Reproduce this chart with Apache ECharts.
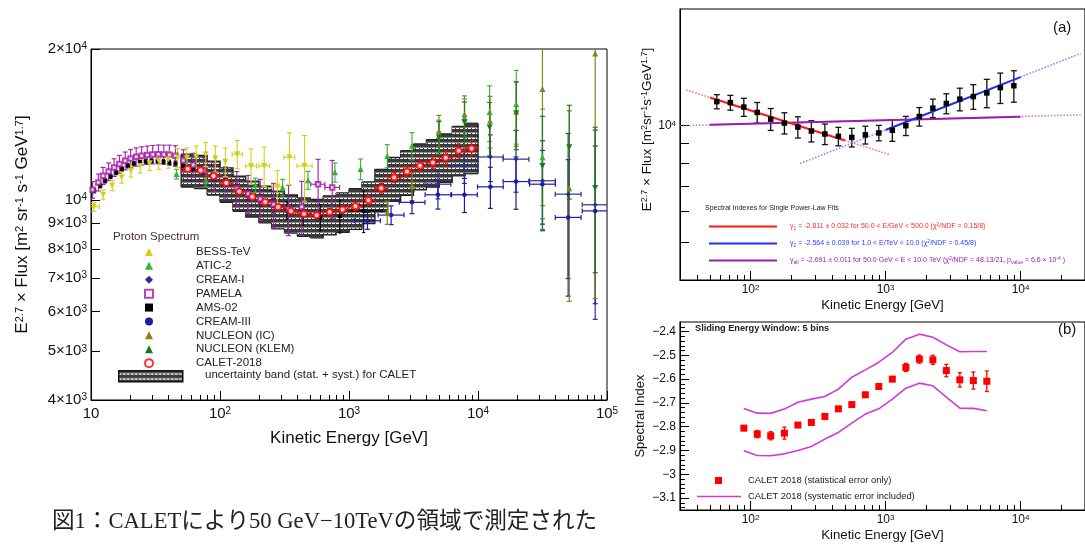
<!DOCTYPE html>
<html><head><meta charset="utf-8">
<script src="https://cdn.jsdelivr.net/npm/echarts@6/dist/echarts.min.js"></script>
<style>html,body{margin:0;padding:0;background:#fff;}#c{width:1085px;height:544px;}</style>
</head><body><div id="c"></div>
<script>
// ================= DATA =================
// Left panel ticks
const leftXMajor = [10, 100, 1000, 10000, 100000];
const leftXMinor = [20,30,40,50,60,70,80,90,200,300,400,500,600,700,800,900,2000,3000,4000,5000,6000,7000,8000,9000,20000,30000,40000,50000,60000,70000,80000,90000];
const leftYTicks = [4000,5000,6000,7000,8000,9000,10000,20000];

// CALET-2018
const calE = [56.2,70.8,89.1,112,141,178,224,282,355,447,562,708,891,1122,1413,1778,2239,2818,3548,4467,5623,7079,8913];
const calEdges = [50,63.1,79.4,100,126,158,200,251,316,398,501,631,794,1000,1259,1585,1995,2512,3162,3981,5012,6310,7943,10000];
const calF = [11540,11470,11170,10820,10400,10160,9920,9690,9520,9390,9330,9470,9580,9730,10000,10560,11100,11410,11710,11890,12150,12540,12680];
const calStatErr = [50,55,60,70,80,90,100,110,120,130,140,150,170,190,210,230,260,290,320,350,380,400,420];
const calTotErr = [485,505,600,660,675,640,625,610,580,515,515,500,440,615,570,580,610,675,785,870,1020,1130,1180];
const bandHi = [12350,12280,11960,11600,11160,10910,10660,10420,10240,10100,10030,10200,10340,10540,10870,11520,12160,12550,12940,13200,13550,14020,14230];
const bandLo = [10620,10550,10240,9900,9500,9250,9010,8770,8600,8470,8410,8530,8630,8750,8980,9480,9950,10220,10480,10620,10850,11180,11290];

// AMS-02
const amsE = [10.6,11.8,12.9,14.2,15.7,17.4,19.3,21.5,23.9,26.5,29.5,32.8,36.5,40.5,45.1,52,62,75,90,110,135,165,205,260,330,440,600,850,1300];
const amsF = [10440,10680,10930,11150,11350,11530,11710,11830,11910,11940,11960,11960,11920,11870,11830,11700,11560,11350,11100,10850,10550,10250,10000,9750,9550,9350,9250,9300,9520];
const amsErr = [100,100,110,110,110,120,120,120,120,130,130,130,130,140,140,150,160,170,180,200,220,250,280,320,380,450,550,700,900];
const amsELo = [null,null,null,null,null,null,null,null,null,null,null,null,null,null,null,null,null,null,null,null,null,null,null,null,null,null,null,null,1000];
const amsEHi = [null,null,null,null,null,null,null,null,null,null,null,null,null,null,null,null,null,null,null,null,null,null,null,null,null,null,null,null,1800];

// PAMELA
const pamE = [10.3,11.4,12.4,13.7,15.1,16.6,18.4,20.3,22.4,24.7,27.3,30.1,33.3,36.7,40.5,45.1,52,62,75,90,110,135,165,205,260,340,430,576,741];
const pamF = [10490,10850,11180,11400,11620,11800,11980,12110,12200,12260,12300,12330,12350,12330,12310,12260,12000,11750,11450,11150,10850,10550,10300,10050,9800,9600,9700,10760,10600];
const pamErr = [400,420,440,460,470,480,490,500,510,510,520,520,530,540,560,580,600,650,700,750,800,850,900,950,1000,1100,1200,1300,1400];
const pamELo = [null,null,null,null,null,null,null,null,null,null,null,null,null,null,null,null,null,null,null,null,null,null,null,null,null,null,null,505,650];
const pamEHi = [null,null,null,null,null,null,null,null,null,null,null,null,null,null,null,null,null,null,null,null,null,null,null,null,null,null,null,650,845];

// BESS-TeV
const bessE = [10.5,12.4,14.6,17.3,20.4,24.1,28.5,33.6,39.7,46.9,55.4,65.4,77.5,92,110,136,174,220,278,345,452];
const bessF = [9700,10250,10700,11100,11450,11700,11850,11950,12050,12150,12150,12200,12350,12100,11920,12350,11700,11700,10650,12170,11700];
const bessErr = [200,230,260,290,330,370,400,430,470,520,560,620,680,720,780,800,950,1050,800,1450,1750];
const bessELo = [9.5,null,null,null,null,null,null,null,null,null,null,null,null,null,null,124,158,200,252,313,395];
const bessEHi = [11.6,null,null,null,null,null,null,null,null,null,null,null,null,null,null,149,192,242,306,380,518];

// ATIC-2
const aticE = [46,78,188,306,481,778,1230,1980,3080,4980,7860,12300,19800,31600];
const aticF = [11270,10930,10710,10600,10960,11360,11530,12250,12830,13430,14610,14990,15530,12180];
const aticErr = [250,300,350,400,450,500,550,650,800,1000,1300,1900,2600,3000];

// CREAM-I
const c1E = [4890,7850,12470,19700,31600,50000,81000];
const c1F = [10760,11700,12190,12070,10930,10280,9790];
const c1Err = [700,900,1300,1700,2200,3300,4000];
const c1ELo = [3890,6240,9910,15650,25100,39700,64300];
const c1EHi = [6160,9880,15700,24800,39800,62900,102000];

// CREAM-III
const c3E = [1390,2120,3080,4890,7850,12470,19700,31600,50000,81000];
const c3F = [9100,9340,9900,10250,10250,10630,10890,10760,9240,9520];
const c3Err = [350,400,500,650,800,1000,1300,1800,2800,3300];
const c3ELo = [1100,1680,2450,3890,6240,9910,15650,25100,39700,64300];
const c3EHi = [1750,2670,3880,6160,9880,15700,24800,39800,62900,102000];

// NUCLEON (IC)
const icE = [1980,3080,4980,7860,12400,19800,31600,51000,81000];
const icF = [9450,10680,13750,14830,14400,15000,16650,10560,19600];
const icErrLo = [500,700,1000,1300,1700,2200,6900,4270,13230];
const icErrHi = [500,700,1000,1300,1700,2200,3400,4500,3000];

// NUCLEON (KLEM)
const klE = [4980,7860,12300,19800,31600,51000,81000];
const klF = [13340,14290,13950,14900,11690,12750,10570];
const klErr = [1000,1400,1700,2300,3000,2700,3400];

// Panel (a): fits (end points)
const aXMajor = [100,1000,10000];
const aXMinor = [40,50,60,70,80,90,200,300,400,500,600,700,800,900,2000,3000,4000,5000,6000,7000,8000,9000,20000];
const aYTicks = [5000,6000,7000,8000,9000,10000];
const fitRedDotE = [33.3,1064], fitRedDotF = [12370,8430];
const fitRedE = [50,500], fitRedF = [11825,9160];
const fitBlueDotE = [232.6,27860], fitBlueDotF = [7990,15360];
const fitBlueE = [1000,10000], fitBlueF = [9750,13350];
const fitAllDotE = [29.8,27860], fitAllDotF = [10000,10670];
const fitAllE = [50,10000], fitAllF = [10050,10540];

// Panel (b): spectral index (sliding window)
const bE = [89.1,112,141,178,224,282,355,447,562,708,891,1122,1413,1778,2239,2818,3548,4467,5623];
const bIdx = [-2.806,-2.831,-2.838,-2.827,-2.793,-2.782,-2.757,-2.725,-2.707,-2.666,-2.631,-2.600,-2.551,-2.516,-2.519,-2.564,-2.603,-2.606,-2.609];
const bErr = [0.010,0.015,0.017,0.025,0.010,0.010,0.010,0.010,0.008,0.010,0.008,0.010,0.017,0.017,0.019,0.026,0.030,0.036,0.043];
const bUpper = [-2.723,-2.743,-2.744,-2.726,-2.697,-2.684,-2.673,-2.642,-2.592,-2.561,-2.529,-2.488,-2.432,-2.411,-2.424,-2.456,-2.485,-2.484,-2.484];
const bLower = [-2.901,-2.921,-2.922,-2.914,-2.900,-2.883,-2.852,-2.824,-2.785,-2.747,-2.725,-2.684,-2.638,-2.617,-2.628,-2.676,-2.722,-2.723,-2.733];
const bYMajor = [-3.1,-3.0,-2.9,-2.8,-2.7,-2.6,-2.5,-2.4];
const bYMinor = [-3.14,-3.12,-3.08,-3.06,-3.04,-3.02,-2.98,-2.96,-2.94,-2.92,-2.88,-2.86,-2.84,-2.82,-2.78,-2.76,-2.74,-2.72,-2.68,-2.66,-2.64,-2.62,-2.58,-2.56,-2.54,-2.52,-2.48,-2.46,-2.44,-2.42,-2.38];

// Legend names
const nBESS='BESS-TeV', nATIC='ATIC-2', nC1='CREAM-I', nPAM='PAMELA', nAMS='AMS-02', nC3='CREAM-III', nIC='NUCLEON (IC)', nKL='NUCLEON (KLEM)', nCAL='CALET-2018';
const nFit1 = 'γ1 = -2.811 ± 0.032 for 50.0 < E/GeV < 500.0 (χ2/NDF = 0.15/8)';
const nFit2 = 'γ2 = -2.564 ± 0.039 for 1.0 < E/TeV < 10.0 (χ2/NDF = 0.45/8)';
const nFitA = 'γall = -2.691 ± 0.011 for 50.0 GeV < E < 10.0 TeV (χ2/NDF = 48.13/21, p value = 6.6 × 10-4 )';
const fitRich = {};
fitRich[nFit1] = 'γ{sub|1} = -2.811 ± 0.032 for 50.0 < E/GeV < 500.0 (χ{sup|2}/NDF = 0.15/8)';
fitRich[nFit2] = 'γ{sub|2} = -2.564 ± 0.039 for 1.0 < E/TeV < 10.0 (χ{sup|2}/NDF = 0.45/8)';
fitRich[nFitA] = 'γ{sub|all} = -2.691 ± 0.011 for 50.0 GeV < E < 10.0 TeV (χ{sup|2}/NDF = 48.13/21, p{sub|value} = 6.6 × 10{sup|-4} )';

// ================= CHART =================
const FONT = '"Liberation Sans", Arial, Helvetica, sans-serif';
const chart = echarts.init(document.getElementById('c'), null, {renderer: 'canvas'});

// hatch pattern for CALET band
const pc = document.createElement('canvas'); pc.width = 4; pc.height = 5;
const g = pc.getContext('2d');
g.fillStyle = '#3a3a3a'; g.fillRect(0, 0, 4, 5);
g.fillStyle = '#ffffff'; g.fillRect(0, 3, 3, 1);
g.fillStyle = '#8a8a8a'; g.fillRect(0, 2, 4, 1);
const hatch = {image: pc, repeat: 'repeat'};

function errSeries(name, xi, yi, E, F, lo, hi, eLo, eHi, color, cap, lw) {
  const data = E.map((e, i) => [
    e, F[i],
    lo ? F[i] - lo[i] : '-',
    hi ? F[i] + hi[i] : '-',
    (eLo && eLo[i] != null) ? eLo[i] : '-',
    (eHi && eHi[i] != null) ? eHi[i] : '-'
  ]);
  return {
    type: 'custom', name: name, xAxisIndex: xi, yAxisIndex: yi, clip: true, z: 2, silent: true,
    dimensions: [{name:'x',type:'float'},{name:'y',type:'float'},{name:'lo',type:'float'},{name:'hi',type:'float'},{name:'xl',type:'float'},{name:'xh',type:'float'}],
    encode: {x: 0, y: 1},
    data: data,
    renderItem: function (params, api) {
      const x = api.value(0), y = api.value(1);
      const c = api.coord([x, y]);
      const st = {stroke: color, lineWidth: lw};
      const ch = [];
      const L = (x1, y1, x2, y2) => ch.push({type: 'line', shape: {x1, y1, x2, y2}, style: st});
      const ylo = api.value(2), yhi = api.value(3);
      if (!isNaN(ylo) && !isNaN(yhi)) {
        const a = api.coord([x, ylo])[1], b = api.coord([x, yhi])[1];
        L(c[0], a, c[0], b);
        if (cap) { L(c[0] - cap, a, c[0] + cap, a); L(c[0] - cap, b, c[0] + cap, b); }
      }
      const xl = api.value(4), xh = api.value(5);
      if (!isNaN(xl) && !isNaN(xh)) {
        const a = api.coord([xl, y])[0], b = api.coord([xh, y])[0];
        L(a, c[1], b, c[1]);
        if (cap) { L(a, c[1] - cap, a, c[1] + cap); L(b, c[1] - cap, b, c[1] + cap); }
      }
      return {type: 'group', children: ch};
    }
  };
}
function sc(name, xi, yi, E, F, color, symbol, size, extra) {
  return Object.assign({
    type: 'scatter', name: name, xAxisIndex: xi, yAxisIndex: yi, z: 3, silent: true,
    symbol: symbol, symbolSize: size, itemStyle: {color: color, opacity: 1},
    data: E.map((e, i) => [e, F[i]])
  }, extra || {});
}

const supRich = (fs) => ({sup: {fontSize: fs, verticalAlign: 'top', lineHeight: fs, fontFamily: FONT, color: '#111'}});
const decFmt = v => { const p = Math.round(Math.log10(v)); return p === 1 ? '10' : '10{sup|' + p + '}'; };
const leftYFmt = v => { const k = Math.round(v / 1000); if (k === 10) return '10{sup|4}'; if (k === 20) return '2×10{sup|4}'; return k + '×10{sup|3}'; };

const C = {bess:'#d0d01c', atic:'#2fb52f', c1:'#2e2e90', pam:'#a01ca6', ams:'#000000', c3:'#1c1ca8', ic:'#85851a', kl:'#1e781e', cal:'#ff0000'};

function logAxis(grid, min, max, major, minor, fmt, labelVals, fs, margin, extra) {
  return Object.assign({
    type: 'log', logBase: 10, gridIndex: grid, min: min, max: max,
    axisLine: {show: true, lineStyle: {color: '#000', width: 1}},
    axisTick: {show: true, inside: true, length: 9, customValues: major, lineStyle: {color: '#000'}},
    axisLabel: {show: !!fmt, customValues: labelVals || major, formatter: fmt, fontFamily: FONT, fontSize: fs, color: '#111', margin: margin, rich: supRich(Math.round(fs * 0.68))},
    splitLine: {show: false}, minorTick: {show: false}
  }, extra || {});
}
function minorAxis(type, grid, min, max, ticks, len, pos) {
  const a = {
    type: type, gridIndex: grid, min: min, max: max, position: pos,
    axisLine: {show: false}, axisLabel: {show: false}, splitLine: {show: false},
    axisTick: {show: true, inside: true, length: len, customValues: ticks, lineStyle: {color: '#000'}}
  };
  if (type === 'log') a.logBase = 10;
  return a;
}

const option = {
  animation: false,
  backgroundColor: '#ffffff',
  grid: [
    {left: 91, top: 49, width: 516, height: 351, show: true, borderColor: '#000', borderWidth: 1, backgroundColor: 'transparent'},
    {left: 680, top: 9, width: 410, height: 271, show: true, borderColor: '#000', borderWidth: 1.2, backgroundColor: 'transparent'},
    {left: 680, top: 322, width: 410, height: 188, show: true, borderColor: '#000', borderWidth: 1.2, backgroundColor: 'transparent'}
  ],
  xAxis: [
    logAxis(0, 10, 100000, leftXMajor, null, decFmt, null, 15, 6, {position: 'bottom', name: 'Kinetic Energy [GeV]', nameLocation: 'middle', nameGap: 30, nameTextStyle: {fontFamily: FONT, fontSize: 17, color: '#111'}}),
    minorAxis('log', 0, 10, 100000, leftXMinor, 5, 'bottom'),
    logAxis(1, 30, 30000, aXMajor, null, decFmt, null, 12, 4, {position: 'bottom', name: 'Kinetic Energy [GeV]', nameLocation: 'middle', nameGap: 19, nameTextStyle: {fontFamily: FONT, fontSize: 13.2, color: '#111'}}),
    minorAxis('log', 1, 30, 30000, aXMinor, 5, 'bottom'),
    logAxis(2, 30, 30000, aXMajor, null, decFmt, null, 12, 4, {position: 'bottom', name: 'Kinetic Energy [GeV]', nameLocation: 'middle', nameGap: 19, nameTextStyle: {fontFamily: FONT, fontSize: 13.2, color: '#111'}}),
    minorAxis('log', 2, 30, 30000, aXMinor, 5, 'bottom')
  ],
  yAxis: [
    logAxis(0, 4000, 20000, leftYTicks, null, leftYFmt, null, 15, 4, {position: 'left', name: 'E{sup|2.7} × Flux [m{sup|2} sr{sup|-1} s{sup|-1} GeV{sup|1.7}]', nameLocation: 'middle', nameGap: 60, nameRotate: 90, nameTextStyle: {fontFamily: FONT, fontSize: 17, color: '#111', rich: supRich(11)}}),
    logAxis(1, 4000, 20000, aYTicks, null, v => '10{sup|4}', [10000], 12, 4, {position: 'left', name: 'E{sup|2.7} × Flux [m{sup|2}sr{sup|-1}s{sup|-1}GeV{sup|1.7}]', nameLocation: 'middle', nameGap: 26, nameRotate: 90, nameTextStyle: {fontFamily: FONT, fontSize: 13.5, color: '#111', padding: [0, 0, 0, 30], rich: supRich(9)}}),
    {type: 'value', gridIndex: 2, min: -3.15, max: -2.36, position: 'left',
     axisLine: {show: true, lineStyle: {color: '#000'}},
     axisTick: {show: true, inside: true, length: 9, customValues: bYMajor, lineStyle: {color: '#000'}},
     axisLabel: {customValues: bYMajor, fontFamily: FONT, fontSize: 12, color: '#111', margin: 4,
       formatter: v => { const r = Math.round(v * 10) / 10; return (r === -3 ? '−3' : '−' + Math.abs(r).toFixed(1)); }},
     splitLine: {show: false},
     name: 'Spectral Index', nameLocation: 'middle', nameGap: 33, nameRotate: 90, nameTextStyle: {fontFamily: FONT, fontSize: 13, color: '#111'}},
    minorAxis('value', 2, -3.15, -2.36, bYMinor, 5, 'left')
  ],
  legend: [
    {left: 144, top: 245, padding: 0, orient: 'vertical', itemWidth: 8, itemHeight: 8, itemGap: 0, selectedMode: false,
     data: [nBESS, nATIC, nC1, nPAM, nAMS, nC3, nIC, nKL, nCAL],
     textStyle: {fontFamily: FONT, fontSize: 11.5, color: '#222', lineHeight: 13.9, padding: [0, 0, 0, 38]}},
    {left: 709, top: 222, padding: 0, orient: 'vertical', icon: 'rect', itemWidth: 68, itemHeight: 2, itemGap: 8, selectedMode: false,
     data: [{name: nFit1, textStyle: {color: '#ff2a2a'}}, {name: nFit2, textStyle: {color: '#2a3cff'}}, {name: nFitA, textStyle: {color: '#9c1ab0'}}],
     formatter: n => fitRich[n],
     textStyle: {fontFamily: FONT, fontSize: 7, lineHeight: 9, padding: [0, 0, 0, 8],
       rich: {sub: {fontSize: 5, verticalAlign: 'bottom', lineHeight: 9, fontFamily: FONT}, sup: {fontSize: 5, verticalAlign: 'top', lineHeight: 9, fontFamily: FONT}}}},
    {left: 715, top: 476, padding: 0, orient: 'vertical', itemWidth: 7, itemHeight: 7, selectedMode: false,
     data: ['CALET 2018 (statistical error only)'],
     textStyle: {fontFamily: FONT, fontSize: 9.4, color: '#222', padding: [0, 0, 0, 21]}},
    {left: 697, top: 492, padding: 0, orient: 'vertical', icon: 'rect', itemWidth: 44, itemHeight: 1.6, selectedMode: false,
     data: ['CALET 2018 (systematic error included)'],
     textStyle: {fontFamily: FONT, fontSize: 9.4, color: '#222', padding: [0, 0, 0, 2]}}
  ],
  graphic: [
    {type: 'text', left: 113, top: 231, style: {text: 'Proton Spectrum', fontFamily: FONT, fontSize: 11.5, fill: '#4a3030'}},
    {type: 'rect', left: 118, top: 370, shape: {width: 64, height: 11}, style: {fill: hatch, stroke: '#111', lineWidth: 1.5}},
    {type: 'text', left: 205, top: 369, style: {text: 'uncertainty band (stat. + syst.) for CALET', fontFamily: FONT, fontSize: 11.5, fill: '#222'}},
    {type: 'text', left: 1053, top: 20, style: {text: '(a)', fontFamily: FONT, fontSize: 15, fill: '#111'}},
    {type: 'text', left: 705, top: 205, style: {text: 'Spectral Indexes for Single Power-Law Fits', fontFamily: FONT, fontSize: 7, fill: '#222'}},
    {type: 'text', left: 1058, top: 322, style: {text: '(b)', fontFamily: FONT, fontSize: 15, fill: '#111'}},
    {type: 'text', left: 695, top: 324, style: {text: 'Sliding Energy Window: 5 bins', fontFamily: FONT, fontSize: 9.2, fontWeight: 'bold', fill: '#222'}},
    {type: 'text', left: 52, top: 511, style: {text: '図1：CALETにより50 GeV−10TeVの領域で測定された', fontFamily: '"Liberation Serif", "Noto Sans CJK JP", serif', fontSize: 22.6, fill: '#222'}}
  ],
  series: [
    // band
    {type: 'custom', name: 'calet-band', xAxisIndex: 0, yAxisIndex: 0, clip: true, z: 1, silent: true,
     data: calE.map((e, i) => [calEdges[i], calEdges[i + 1], bandLo[i], bandHi[i]]),
     encode: {x: [0, 1], y: [2, 3]},
     renderItem: function (params, api) {
       const i = params.dataIndex;
       const p0 = api.coord([api.value(0), api.value(3)]);
       const p1 = api.coord([api.value(1), api.value(2)]);
       const ch = [{type: 'rect', shape: {x: p0[0], y: p0[1], width: p1[0] - p0[0] + 0.5, height: p1[1] - p0[1]}, style: {fill: hatch}}];
       const st = {stroke: '#222', lineWidth: 1.3, fill: null};
       const top = [[p0[0], p0[1]], [p1[0], p0[1]]];
       const bot = [[p0[0], p1[1]], [p1[0], p1[1]]];
       if (i + 1 < bandHi.length) {
         top.push([p1[0], api.coord([api.value(1), bandHi[i + 1]])[1]]);
         bot.push([p1[0], api.coord([api.value(1), bandLo[i + 1]])[1]]);
       }
       ch.push({type: 'polyline', shape: {points: top}, style: st});
       ch.push({type: 'polyline', shape: {points: bot}, style: st});
       if (i === 0) ch.push({type: 'line', shape: {x1: p0[0], y1: p0[1], x2: p0[0], y2: p1[1]}, style: st});
       if (i === bandHi.length - 1) ch.push({type: 'line', shape: {x1: p1[0], y1: p0[1], x2: p1[0], y2: p1[1]}, style: st});
       return {type: 'group', children: ch};
     }},
    // left panel error bars + markers
    errSeries('e-ams', 0, 0, amsE, amsF, amsErr, amsErr, amsELo, amsEHi, C.ams, 1.5, 1.1),
    sc(nAMS, 0, 0, amsE, amsF, C.ams, 'rect', 4),
    errSeries('e-pam', 0, 0, pamE, pamF, pamErr, pamErr, pamELo, pamEHi, C.pam, 2.5, 1.1),
    sc(nPAM, 0, 0, pamE, pamF, C.pam, 'emptyRect', 4.5, {itemStyle: {color: C.pam, borderColor: C.pam, borderWidth: 1.2}}),
    errSeries('e-bess', 0, 0, bessE, bessF, bessErr, bessErr, bessELo, bessEHi, C.bess, 2.5, 1.1),
    sc(nBESS, 0, 0, bessE, bessF, C.bess, 'triangle', 6, {symbolRotate: 180}),
    errSeries('e-atic', 0, 0, aticE, aticF, aticErr, aticErr, null, null, C.atic, 2.5, 1.1),
    sc(nATIC, 0, 0, aticE, aticF, C.atic, 'triangle', 6),
    errSeries('e-c1', 0, 0, c1E, c1F, c1Err, c1Err, c1ELo, c1EHi, C.c1, 2.5, 1.2),
    sc(nC1, 0, 0, c1E, c1F, C.c1, 'diamond', 5),
    errSeries('e-c3', 0, 0, c3E, c3F, c3Err, c3Err, c3ELo, c3EHi, C.c3, 2.5, 1.2),
    sc(nC3, 0, 0, c3E, c3F, C.c3, 'circle', 4.5),
    errSeries('e-ic', 0, 0, icE, icF, icErrLo, icErrHi, null, null, C.ic, 2.5, 1.2),
    sc(nIC, 0, 0, icE, icF, C.ic, 'triangle', 6),
    errSeries('e-kl', 0, 0, klE, klF, klErr, klErr, null, null, C.kl, 2.5, 1.2),
    sc(nKL, 0, 0, klE, klF, C.kl, 'triangle', 6, {symbolRotate: 180}),
    errSeries('e-cal', 0, 0, calE, calF, calStatErr, calStatErr, calEdges.slice(0, -1), calEdges.slice(1), C.cal, 2, 1.3),
    sc(nCAL, 0, 0, calE, calF, C.cal, 'emptyCircle', 6, {z: 4, itemStyle: {color: C.cal, borderColor: C.cal, borderWidth: 1.5}}),

    // panel (a)
    {type: 'line', name: 'all-dot', xAxisIndex: 2, yAxisIndex: 1, symbol: 'none', silent: true, z: 2,
     lineStyle: {color: '#b04cc4', width: 1.6, type: 'dotted', opacity: 0.7}, data: fitAllDotE.map((e, i) => [e, fitAllDotF[i]])},
    {type: 'line', name: nFitA, xAxisIndex: 2, yAxisIndex: 1, symbol: 'none', silent: true, z: 2, itemStyle: {color: '#9c1ab0'},
     lineStyle: {color: '#9c1ab0', width: 2}, data: fitAllE.map((e, i) => [e, fitAllF[i]])},
    {type: 'line', name: 'red-dot', xAxisIndex: 2, yAxisIndex: 1, symbol: 'none', silent: true, z: 2,
     lineStyle: {color: '#ff4040', width: 1.6, type: 'dotted', opacity: 0.7}, data: fitRedDotE.map((e, i) => [e, fitRedDotF[i]])},
    {type: 'line', name: nFit1, xAxisIndex: 2, yAxisIndex: 1, symbol: 'none', silent: true, z: 2, itemStyle: {color: '#ff1a1a'},
     lineStyle: {color: '#ff1a1a', width: 2}, data: fitRedE.map((e, i) => [e, fitRedF[i]])},
    {type: 'line', name: 'blue-dot', xAxisIndex: 2, yAxisIndex: 1, symbol: 'none', silent: true, z: 2,
     lineStyle: {color: '#4a5cff', width: 1.6, type: 'dotted', opacity: 0.7}, data: fitBlueDotE.map((e, i) => [e, fitBlueDotF[i]])},
    {type: 'line', name: nFit2, xAxisIndex: 2, yAxisIndex: 1, symbol: 'none', silent: true, z: 2, itemStyle: {color: '#1f2cff'},
     lineStyle: {color: '#1f2cff', width: 2}, data: fitBlueE.map((e, i) => [e, fitBlueF[i]])},
    errSeries('e-a', 2, 1, calE, calF, calTotErr, calTotErr, null, null, '#111', 3, 1.3),
    sc('calet-a', 2, 1, calE, calF, '#000', 'rect', 5.5),

    // panel (b)
    {type: 'line', name: 'CALET 2018 (systematic error included)', xAxisIndex: 4, yAxisIndex: 2, symbol: 'none', silent: true, z: 2,
     itemStyle: {color: '#d03ad6'}, lineStyle: {color: '#d03ad6', width: 1.6}, data: bE.map((e, i) => [e, bUpper[i]])},
    {type: 'line', name: 'b-lower', xAxisIndex: 4, yAxisIndex: 2, symbol: 'none', silent: true, z: 2,
     lineStyle: {color: '#d03ad6', width: 1.6}, data: bE.map((e, i) => [e, bLower[i]])},
    errSeries('e-b', 4, 2, bE, bIdx, bErr, bErr, null, null, '#ff0000', 2, 1.3),
    sc('CALET 2018 (statistical error only)', 4, 2, bE, bIdx, '#ff0000', 'rect', 7)
  ]
};
chart.setOption(option);
</script></body></html>
